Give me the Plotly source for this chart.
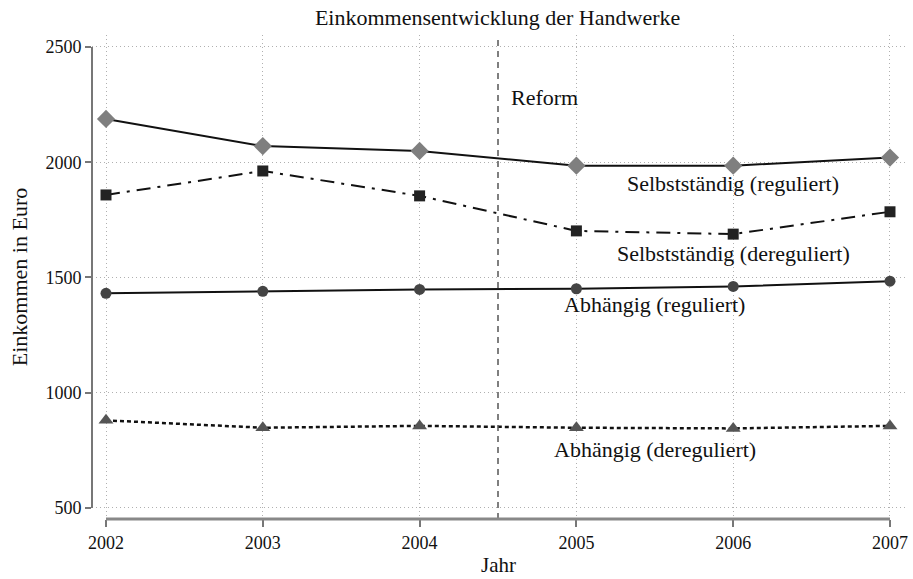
import plotly.graph_objects as go

years = [2002, 2003, 2004, 2005, 2006, 2007]
selb_reg = [2188, 2070, 2049, 1985, 1985, 2020]
selb_dereg = [1858, 1962, 1854, 1702, 1688, 1785]
abh_reg = [1431, 1440, 1448, 1451, 1461, 1484]
abh_dereg = [880, 848, 856, 848, 845, 856]

series_names = ["Selbstständig (reguliert)", "Selbstständig (dereguliert)",
                "Abhängig (reguliert)", "Abhängig (dereguliert)"]
label_x = [2006.0, 2006.0, 2005.5, 2005.5]
label_y = [1906, 1606, 1381, 752]
reform_year = 2004.5
yticks = [500, 1000, 1500, 2000, 2500]

FONT = "Liberation Serif, Times New Roman, serif"

fig = go.Figure()
fig.add_trace(go.Scatter(x=years, y=selb_reg, mode="lines+markers", name=series_names[0],
                         line=dict(color="#111", width=2),
                         marker=dict(symbol="diamond", size=14, color="#7f7f7f")))
fig.add_trace(go.Scatter(x=years, y=selb_dereg, mode="lines+markers", name=series_names[1],
                         line=dict(color="#111", width=2, dash="14px,7px,3px,7px"),
                         marker=dict(symbol="square", size=11, color="#222")))
fig.add_trace(go.Scatter(x=years, y=abh_reg, mode="lines+markers", name=series_names[2],
                         line=dict(color="#111", width=2),
                         marker=dict(symbol="circle", size=11, color="#444")))
fig.add_trace(go.Scatter(x=years, y=abh_dereg, mode="lines+markers", name=series_names[3],
                         line=dict(color="#111", width=2.5, dash="4px,3px"),
                         marker=dict(symbol="triangle-up", size=13, color="#555")))

for name, lx, ly in zip(series_names, label_x, label_y):
    fig.add_annotation(x=lx, y=ly, text=name, showarrow=False,
                       font=dict(family=FONT, size=22, color="#111"))

fig.add_annotation(x=reform_year, y=2283, text="Reform", showarrow=False, xanchor="left",
                   xshift=11, font=dict(family=FONT, size=22, color="#111"))

fig.add_shape(type="line", xref="x", yref="paper", x0=reform_year, x1=reform_year, y0=0, y1=1,
              line=dict(color="#555", width=1.5, dash="6px,5px"))
# axis lines spanning tick range only
fig.add_shape(type="line", xref="paper", yref="y", x0=0, x1=0, y0=yticks[0], y1=yticks[-1],
              line=dict(color="#777", width=2))
fig.add_shape(type="line", xref="x", yref="paper", x0=years[0], x1=years[-1], y0=0, y1=0,
              line=dict(color="#888", width=3))

fig.update_layout(
    width=913, height=579,
    margin=dict(l=92, r=8, t=35, b=60),
    paper_bgcolor="white", plot_bgcolor="white",
    showlegend=False,
    title=dict(text="Einkommensentwicklung der Handwerke", x=0.545, xanchor="center",
               y=0.97, yanchor="middle", automargin=False,
               font=dict(family=FONT, size=22, color="#111")),
    font=dict(family=FONT, color="#111"),
)
fig.update_xaxes(range=[2001.9107, 2007.0957], tickvals=years, ticktext=[str(y) for y in years],
                 automargin=False,
                 showgrid=True, gridcolor="#b0b0b0", gridwidth=1, griddash="1px,3px",
                 zeroline=False, showline=False, ticks="outside", ticklen=7, tickwidth=1.5,
                 tickcolor="#777", tickfont=dict(family=FONT, size=18, color="#111"),
                 title=dict(text="Jahr", font=dict(family=FONT, size=21, color="#111"), standoff=5))
fig.update_yaxes(range=[452, 2552], tickvals=yticks, automargin=False,
                 showgrid=True, gridcolor="#b0b0b0", gridwidth=1, griddash="1px,3px",
                 zeroline=False, showline=False, ticks="outside", ticklen=6, tickwidth=1.5,
                 tickcolor="#777", tickfont=dict(family=FONT, size=18, color="#111"),
                 title=dict(text="Einkommen in Euro", font=dict(family=FONT, size=22, color="#111"),
                            standoff=11))

fig.write_html("out.html", config={"displayModeBar": False},
               post_script="document.body.style.margin='0px';")
